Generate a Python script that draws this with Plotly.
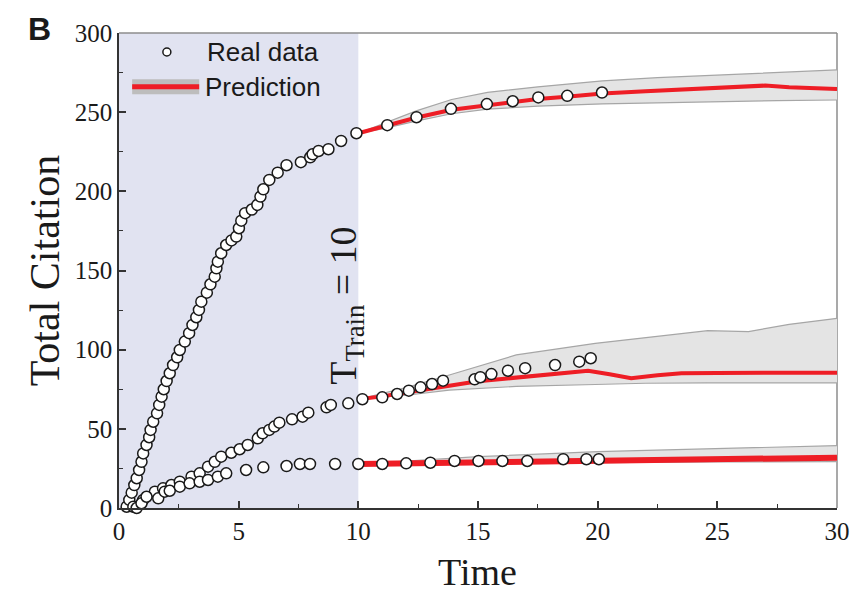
import plotly.graph_objects as go

# ---------------- data ----------------
# high-citation paper: observed points
hi_x = [0.32, 0.43, 0.53, 0.64, 0.74, 0.84, 0.94, 1.01, 1.15, 1.26, 1.32, 1.43, 1.59, 1.68, 1.78,
        1.87, 1.99, 2.12, 2.26, 2.43, 2.54, 2.75, 2.93, 3.07, 3.23, 3.34, 3.44, 3.67, 3.82, 4.0,
        4.07, 4.13, 4.27, 4.48, 4.7, 4.9, 5.01, 5.11, 5.27, 5.55, 5.78, 5.91, 6.03, 6.28, 6.63,
        7.0, 7.6, 7.99, 8.09, 8.34, 8.75, 9.28, 9.92,
        11.21, 12.43, 13.87, 15.37, 16.45, 17.52, 18.73, 20.18]
hi_y = [0.8, 5.1, 9.7, 14.5, 18.8, 24.0, 29.2, 34.5, 39.8, 44.7, 49.3, 54.5, 59.8, 65.1, 70.3,
        75.0, 80.2, 85.1, 90.3, 95.2, 99.8, 105.1, 110.4, 115.6, 120.5, 125.1, 130.3, 136.0, 141.3, 146.1,
        151.4, 155.6, 160.9, 166.1, 169.0, 171.4, 176.7, 181.5, 186.2, 188.5, 191.4, 196.7, 201.3, 207.2, 211.8,
        216.5, 218.4, 221.5, 223.4, 225.5, 226.6, 231.8, 236.7,
        241.8, 246.8, 252.1, 255.1, 256.9, 259.3, 260.3, 262.4]

# medium-citation paper
mid_x = [0.60, 1.01, 1.50, 1.84, 2.19, 2.54, 3.03, 3.37, 3.72, 4.0, 4.27, 4.69, 5.04, 5.38, 5.80,
         6.0, 6.28, 6.49, 6.70, 7.23, 7.67, 7.91, 8.67, 8.85, 9.58, 10.17,
         11.0, 11.62, 12.11, 12.6, 13.08, 13.54, 14.86, 15.1, 15.56, 16.25, 16.97, 18.22, 19.23, 19.71]
mid_y = [0.8, 5.1, 10.3, 12.4, 14.5, 16.6, 19.8, 21.9, 26.1, 29.2, 32.4, 34.9, 37.1, 39.8, 44.0,
         47.2, 49.3, 51.4, 53.9, 56.0, 57.7, 60.2, 63.6, 65.1, 66.1, 68.7,
         69.9, 72.0, 74.1, 76.2, 78.3, 80.4, 81.3, 82.6, 84.6, 86.7, 88.3, 90.3, 92.4, 94.6]

# low-citation paper
lo_x = [0.74, 0.94, 1.15, 1.64, 1.91, 2.12, 2.54, 2.95, 3.37, 3.72, 4.13, 4.48, 5.31, 6.03, 7.0,
        7.56, 7.98, 9.03, 10.0,
        11.0, 12.0, 13.01, 14.02, 15.02, 16.02, 17.06, 18.56, 19.53, 20.05]
lo_y = [0.0, 3.0, 7.1, 6.1, 10.3, 10.9, 13.5, 15.6, 16.6, 17.7, 19.8, 21.9, 24.0, 25.7, 26.5,
        27.8, 27.8, 27.8, 27.8,
        27.8, 28.2, 28.6, 29.7, 29.7, 29.7, 29.7, 30.8, 30.8, 30.8]

# predictions (mean) and confidence bands
hi_pred_x = [10, 11.2, 12.4, 13.9, 15.4, 16.5, 17.5, 18.7, 20.2, 22, 24, 26, 27, 28, 30]
hi_pred_y = [236.7, 241.8, 246.5, 251.5, 254.5, 256.5, 258.3, 259.8, 261.8, 263.2, 264.8, 266.6, 266.8, 265.8, 264.7]
hi_band_x = [10, 11, 12.45, 13.9, 15.4, 17.5, 20.2, 22.5, 25, 27.5, 30]
hi_band_hi = [236.7, 242.5, 251.0, 258.0, 262.5, 266.0, 269.8, 271.8, 273.5, 275.2, 276.7]
hi_band_lo = [236.7, 239.5, 244.5, 249.0, 251.9, 253.8, 255.2, 256.0, 256.8, 257.3, 257.7]

mid_pred_x = [10, 11, 12, 13, 14, 15, 16, 17, 18, 19, 19.6, 20.5, 21.4, 22.5, 23.5, 25, 27, 30]
mid_pred_y = [68.7, 70.5, 73.0, 75.5, 78.0, 80.0, 81.5, 83.0, 84.3, 85.6, 86.7, 84.5, 81.9, 83.8, 85.1, 85.3, 85.5, 85.5]
mid_band_x = [10, 12, 13.8, 16.6, 19.9, 22, 24.6, 26.3, 28, 30]
mid_band_hi = [68.7, 76.0, 84.0, 96.7, 104.0, 107.5, 112.0, 111.4, 116.0, 119.8]
mid_band_lo = [68.7, 71.2, 74.5, 76.8, 78.0, 78.8, 79.0, 79.0, 79.0, 79.0]

lo_pred_x = [10, 12, 14, 16, 18, 20, 22, 25, 30]
lo_pred_y = [27.8, 28.2, 28.8, 29.3, 29.8, 30.3, 31.0, 31.4, 31.8]
lo_band_x = [10, 15, 20, 25, 30]
lo_band_hi = [27.8, 32.4, 35.6, 37.6, 39.4]
lo_band_lo = [27.8, 28.3, 28.8, 29.1, 29.3]

x_ticks = [0, 5, 10, 15, 20, 25, 30]
y_ticks = [0, 50, 100, 150, 200, 250, 300]
t_train = 10

# ---------------- styles ----------------
RED = "#EE1D25"
BAND_FILL = "#E4E4E4"
BAND_EDGE = "#A6A6A6"
LAVENDER = "#E1E3F1"
SERIF = "Liberation Serif, Times New Roman, serif"
SANS = "Liberation Sans, Arial, sans-serif"

fig = go.Figure()

def add_band(bx, blo, bhi):
    fig.add_trace(go.Scatter(x=bx, y=blo, mode="lines", line=dict(color=BAND_EDGE, width=1.2),
                             showlegend=False, hoverinfo="skip"))
    fig.add_trace(go.Scatter(x=bx, y=bhi, mode="lines", line=dict(color=BAND_EDGE, width=1.2),
                             fill="tonexty", fillcolor=BAND_FILL, showlegend=False, hoverinfo="skip"))

add_band(hi_band_x, hi_band_lo, hi_band_hi)
add_band(mid_band_x, mid_band_lo, mid_band_hi)
add_band(lo_band_x, lo_band_lo, lo_band_hi)

for px, py, w in [(hi_pred_x, hi_pred_y, 4), (mid_pred_x, mid_pred_y, 4), (lo_pred_x, lo_pred_y, 6)]:
    fig.add_trace(go.Scatter(x=px, y=py, mode="lines", line=dict(color=RED, width=w),
                             showlegend=False, hoverinfo="skip"))

marker = dict(symbol="circle", size=11, color="white", line=dict(color="#1a1a1a", width=1.5))
for sx, sy in [(hi_x, hi_y), (mid_x, mid_y), (lo_x, lo_y)]:
    fig.add_trace(go.Scatter(x=sx, y=sy, mode="markers", marker=marker, cliponaxis=False,
                             showlegend=False))

# training region shading
fig.add_shape(type="rect", xref="x", yref="y", x0=0, x1=t_train, y0=0, y1=300,
              fillcolor=LAVENDER, line=dict(width=0), layer="below")
# top & right frame (lighter grey)
fig.add_shape(type="line", xref="paper", yref="paper", x0=0, x1=1, y0=1, y1=1,
              line=dict(color="#8C8C8C", width=1.5))
fig.add_shape(type="line", xref="paper", yref="paper", x0=1, x1=1, y0=0, y1=1,
              line=dict(color="#8C8C8C", width=1.5), layer="below")

# custom legend
fig.add_trace(go.Scatter(x=[2.0], y=[288], mode="markers", cliponaxis=False,
                         marker=dict(symbol="circle", size=8, color="white",
                                     line=dict(color="#1a1a1a", width=1.5)),
                         showlegend=False, hoverinfo="skip"))
fig.add_shape(type="line", xref="x", yref="y", x0=0.55, x1=3.35, y0=266, y1=266,
              line=dict(color="#BDBDBD", width=15))
fig.add_shape(type="line", xref="x", yref="y", x0=0.55, x1=3.35, y0=266, y1=266,
              line=dict(color=RED, width=5))
fig.add_annotation(x=3.6, y=288, xref="x", yref="y", text="Real data", showarrow=False,
                   xanchor="left", yanchor="middle", font=dict(family=SANS, size=26, color="#1a1a1a"))
fig.add_annotation(x=3.5, y=266, xref="x", yref="y", text="Prediction", showarrow=False,
                   xanchor="left", yanchor="middle", font=dict(family=SANS, size=26, color="#1a1a1a"))

# T_Train annotation
fig.add_annotation(x=9.5, y=128, xref="x", yref="y", text="T<sub>Train</sub> = 10", showarrow=False,
                   textangle=-90, xanchor="center", yanchor="middle",
                   font=dict(family=SERIF, size=38, color="#1a1a1a"))

# axis titles and panel letter
fig.add_annotation(x=-0.1026, y=0.501, xref="paper", yref="paper", text="Total Citation", showarrow=False,
                   textangle=-90, xanchor="center", yanchor="middle",
                   font=dict(family=SERIF, size=42, color="#1a1a1a"))
fig.add_annotation(x=0.499, y=-0.134, xref="paper", yref="paper", text="Time", showarrow=False,
                   xanchor="center", yanchor="middle", borderpad=0,
                   font=dict(family=SERIF, size=38, color="#1a1a1a"))
fig.add_annotation(x=-0.111, y=1.008, xref="paper", yref="paper", text="<b>B</b>", showarrow=False,
                   xanchor="center", yanchor="middle", borderpad=0,
                   font=dict(family=SANS, size=32, color="#1a1a1a"))

axis_common = dict(showgrid=False, zeroline=False, showline=True, linecolor="#333333", linewidth=1.5,
                   ticks="inside", ticklen=7, tickwidth=1.5, tickcolor="#333333",
                   tickfont=dict(family=SERIF, size=25, color="#1a1a1a"))
fig.update_xaxes(range=[0, 30], tickvals=x_ticks, ticktext=[str(v) for v in x_ticks],
                 minor=dict(ticks="inside", ticklen=4, tickwidth=1.2, dtick=2.5, tickcolor="#333333"),
                 **axis_common)
fig.update_yaxes(range=[0, 300], tickvals=y_ticks, ticktext=[str(v) for v in y_ticks],
                 minor=dict(ticks="inside", ticklen=4, tickwidth=1.2, dtick=25, tickcolor="#333333"),
                 **axis_common)

# page body has an 8px margin, so the figure is drawn 8px smaller and offset accordingly
fig.update_layout(width=854, height=585, margin=dict(l=111, r=22, t=25, b=85),
                  plot_bgcolor="white", paper_bgcolor="white", showlegend=False)

fig.write_html("out.html")
